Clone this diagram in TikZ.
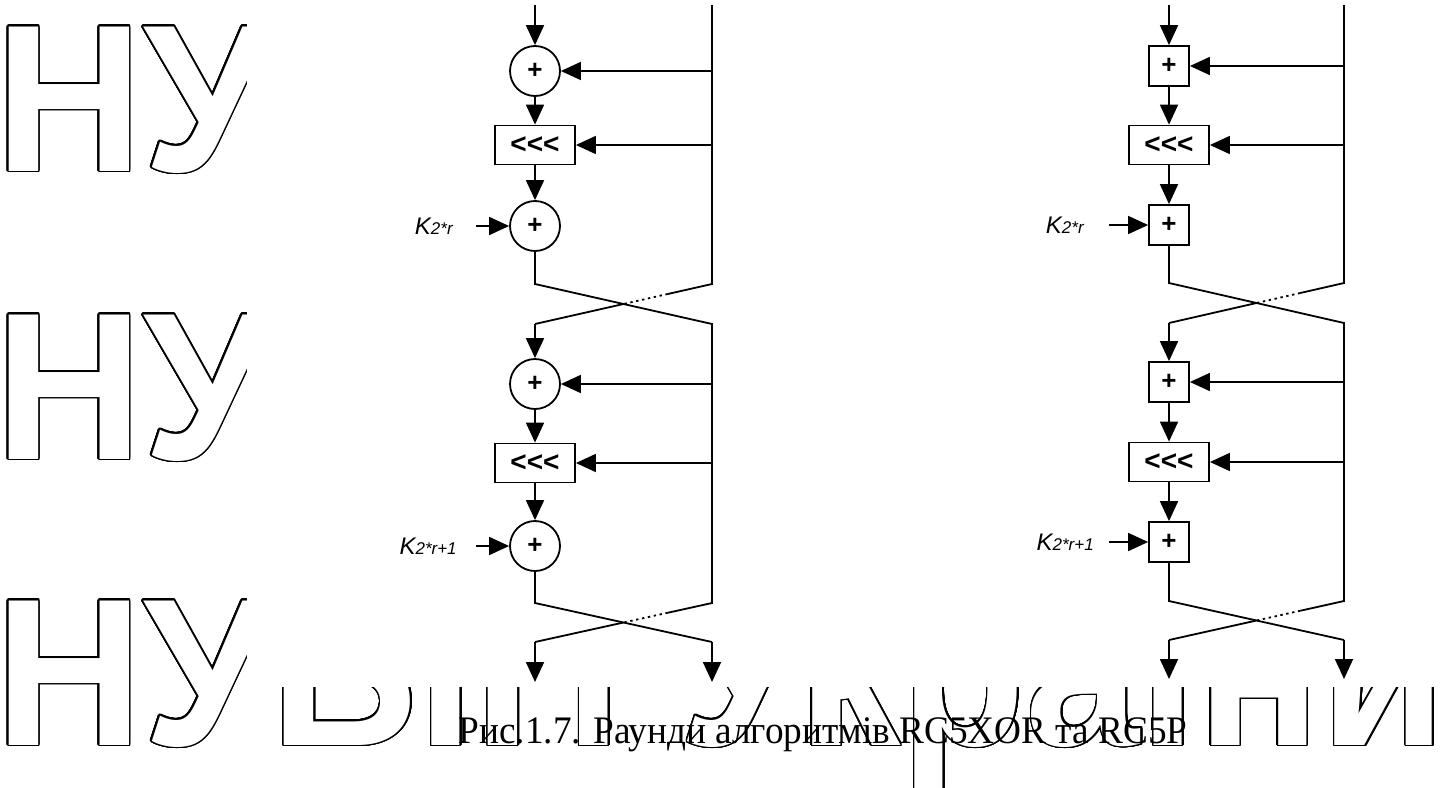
\documentclass[tikz,border=0pt]{standalone}
\usepackage{fontspec}
\setmainfont{Liberation Serif}
\setsansfont{Liberation Sans}
\usepackage[copies]{contour}
\contourlength{0.8pt}
\contournumber{32}
\usetikzlibrary{arrows.meta, positioning, calc}

\newcommand{\kidx}[1]{{\fontsize{8.5}{9}\selectfont #1}}
\newcommand{\rotl}{<\kern0pt<\kern0pt<}
\newcommand{\wmline}{\scalebox{0.975}[1]{\contour{black}{НУБіП України}}}

\begin{document}
\begin{tikzpicture}[
    x=0.5pt, y=-0.5pt,
    wire/.style={line width=0.9pt},
    arrow/.style={wire, -{Triangle[length=10pt, width=9pt]}},
    dotseg/.style={line width=0.9pt, dash pattern=on 1.2pt off 1.8pt},
    adder/.style={draw, wire, circle, minimum size=25pt, inner sep=0pt, font=\sffamily\bfseries\fontsize{13}{13}\selectfont},
    addsq/.style={draw, wire, rectangle, minimum size=20pt, inner sep=0pt, font=\sffamily\bfseries\fontsize{13}{13}\selectfont},
    rotbox/.style={draw, wire, rectangle, minimum width=40pt, minimum height=19.5pt, inner sep=0pt, font=\sffamily\bfseries\fontsize{14}{14}\selectfont},
    keylab/.style={inner sep=0pt, font=\sffamily\itshape\fontsize{12}{13}\selectfont},
    wmtext/.style={anchor=base west, inner sep=0pt, text=white, font=\sffamily\bfseries\fontsize{105}{105}\selectfont},
    figcap/.style={anchor=base, inner sep=0pt, font=\fontsize{19.5}{20}\selectfont}
]
\useasboundingbox (0,0) rectangle (1454,787);

% Watermark
\node[wmtext] (wm1) at (-5,171) {\wmline};
\node[wmtext] (wm2) at (-5,459) {\wmline};
\node[wmtext] (wm3) at (-5,745) {\wmline};
\fill[white] (247,0) rectangle (1454,687);

% Round of RC5XOR
\coordinate (ain) at (535,5);
\coordinate (atop) at (712,5);
\node[adder] (a1) at (535,71) {+};
\node[rotbox] (a2) at (535,145) {\rotl};
\node[adder] (a3) at (535,226) {+};
\node[keylab, left=28pt of a3] (ka3) {K\kidx{2*r}};
\coordinate[left=16.5pt of a3] (ka3in);
\coordinate (ax1) at (535,284);
\coordinate (ax2) at (712,284);
\coordinate (ax3) at (535,324);
\coordinate (ax4) at (712,324);
\node[adder] (a4) at (535,384) {+};
\node[rotbox] (a5) at (535,463) {\rotl};
\node[adder] (a6) at (535,546) {+};
\node[keylab, left=26pt of a6] (ka6) {K\kidx{2*r+1}};
\coordinate[left=16.5pt of a6] (ka6in);
\coordinate (ay1) at (535,603);
\coordinate (ay2) at (712,603);
\coordinate (ay3) at (535,642);
\coordinate (ay4) at (712,642);
\coordinate (aout1) at (535,682);
\coordinate (aout2) at (712,682);

\draw[arrow] (ain) -- (a1);
\draw[arrow] (a1) -- (a2);
\draw[arrow] (a2) -- (a3);
\draw[arrow] (ka3in) -- (a3);
\draw[arrow] (atop |- a1) -- (a1);
\draw[arrow] (atop |- a2) -- (a2);
\draw[wire] (atop) -- (ax2) -- ($(ax2)!0.25!(ax3)$);
\draw[dotseg] ($(ax2)!0.25!(ax3)$) -- ($(ax2)!0.5!(ax3)$);
\draw[wire] ($(ax2)!0.5!(ax3)$) -- (ax3);
\draw[arrow] (ax3) -- (a4);
\draw[arrow] (a4) -- (a5);
\draw[arrow] (a5) -- (a6);
\draw[arrow] (ka6in) -- (a6);
\draw[arrow] (ax4 |- a4) -- (a4);
\draw[arrow] (ax4 |- a5) -- (a5);
\draw[wire] (a3) -- (ax1) -- (ax4) -- (ay2) -- ($(ay2)!0.25!(ay3)$);
\draw[dotseg] ($(ay2)!0.25!(ay3)$) -- ($(ay2)!0.5!(ay3)$);
\draw[wire] ($(ay2)!0.5!(ay3)$) -- (ay3);
\draw[arrow] (ay3) -- (aout1);
\draw[wire] (a6) -- (ay1) -- (ay4);
\draw[arrow] (ay4) -- (aout2);

% Round of RC5P
\coordinate (bin) at (1169,5);
\coordinate (btop) at (1344,5);
\node[addsq] (b1) at (1169,66) {+};
\node[rotbox] (b2) at (1169,145) {\rotl};
\node[addsq] (b3) at (1169,225) {+};
\node[keylab, left=32pt of b3] (kb3) {K\kidx{2*r}};
\coordinate[left=19.5pt of b3] (kb3in);
\coordinate (bx1) at (1169,283);
\coordinate (bx2) at (1344,283);
\coordinate (bx3) at (1169,323);
\coordinate (bx4) at (1344,323);
\node[addsq] (b4) at (1169,382) {+};
\node[rotbox] (b5) at (1169,462) {\rotl};
\node[addsq] (b6) at (1169,542) {+};
\node[keylab, left=27pt of b6] (kb6) {K\kidx{2*r+1}};
\coordinate[left=19.5pt of b6] (kb6in);
\coordinate (by1) at (1169,601);
\coordinate (by2) at (1344,601);
\coordinate (by3) at (1169,640);
\coordinate (by4) at (1344,640);
\coordinate (bout1) at (1169,679);
\coordinate (bout2) at (1344,679);

\draw[arrow] (bin) -- (b1);
\draw[arrow] (b1) -- (b2);
\draw[arrow] (b2) -- (b3);
\draw[arrow] (kb3in) -- (b3);
\draw[arrow] (btop |- b1) -- (b1);
\draw[arrow] (btop |- b2) -- (b2);
\draw[wire] (btop) -- (bx2) -- ($(bx2)!0.25!(bx3)$);
\draw[dotseg] ($(bx2)!0.25!(bx3)$) -- ($(bx2)!0.5!(bx3)$);
\draw[wire] ($(bx2)!0.5!(bx3)$) -- (bx3);
\draw[arrow] (bx3) -- (b4);
\draw[arrow] (b4) -- (b5);
\draw[arrow] (b5) -- (b6);
\draw[arrow] (kb6in) -- (b6);
\draw[arrow] (bx4 |- b4) -- (b4);
\draw[arrow] (bx4 |- b5) -- (b5);
\draw[wire] (b3) -- (bx1) -- (bx4) -- (by2) -- ($(by2)!0.25!(by3)$);
\draw[dotseg] ($(by2)!0.25!(by3)$) -- ($(by2)!0.5!(by3)$);
\draw[wire] ($(by2)!0.5!(by3)$) -- (by3);
\draw[arrow] (by3) -- (bout1);
\draw[wire] (b6) -- (by1) -- (by4);
\draw[arrow] (by4) -- (bout2);

% Caption
\node[figcap] (cap) at (823,743) {\scalebox{0.955}[1]{Рис.1.7. Раунди алгоритмів RC5XOR та RC5P}};

\end{tikzpicture}
\end{document}
